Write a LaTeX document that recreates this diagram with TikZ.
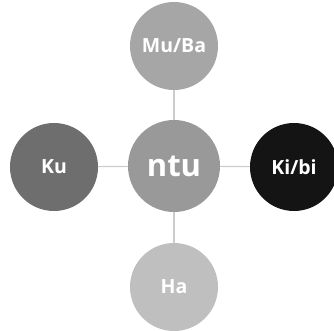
\documentclass[tikz,border=0pt]{standalone}
\usepackage{fontspec}
\setmainfont{Open Sans}
\begin{document}
\begin{tikzpicture}[x=1pt,y=-1pt,
  ball/.style={circle,minimum size=88pt,inner sep=0pt,text=white,font=\bfseries\fontsize{19.5}{22}\selectfont},
  link/.style={draw=black!20,line width=1.2pt}]
\useasboundingbox (0,0) rectangle (334,331);
\node[ball,fill=black!40,minimum size=92pt,font=\bfseries\fontsize{31}{36}\selectfont] (c) at (174,166) {ntu};
\node[ball,fill=black!35] (t) at (174,46) {Mu/Ba};
\node[ball,fill=black!57] (l) at (54,167) {Ku};
\node[ball,fill=black!92] (r) at (294,167) {Ki/bi};
\node[ball,fill=black!25] (b) at (174,287) {Ha};
\draw[link] (c) -- (t);
\draw[link] (c) -- (l);
\draw[link] (c) -- (r);
\draw[link] (c) -- (b);
\end{tikzpicture}
\end{document}
